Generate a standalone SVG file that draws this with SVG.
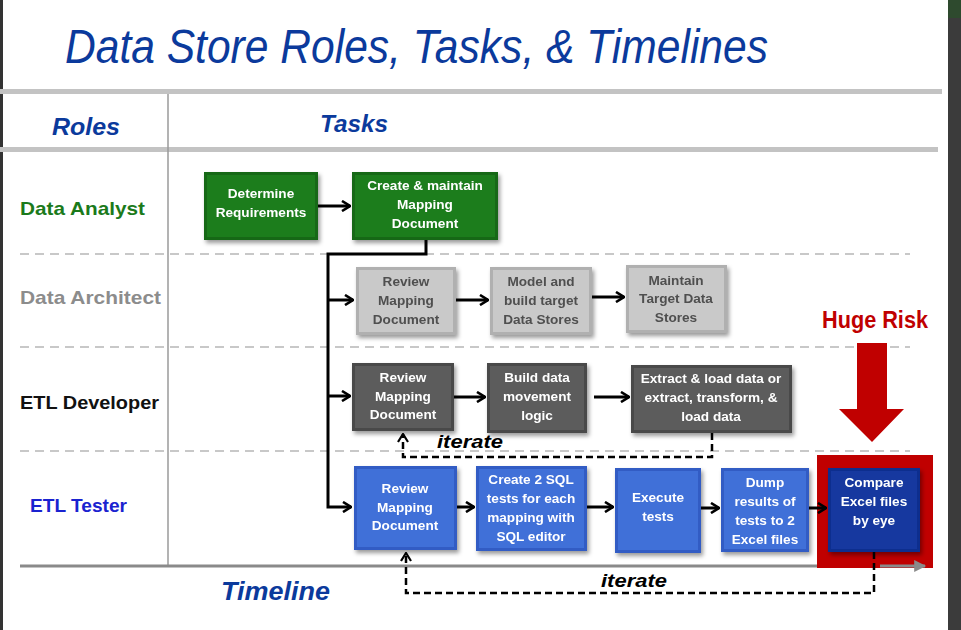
<svg xmlns="http://www.w3.org/2000/svg" width="961" height="630" viewBox="0 0 961 630">
<defs>
<style>
.lbl{font-family:"Liberation Sans",Arial,sans-serif;font-weight:bold;}
.bt{font-family:"Liberation Sans",Arial,sans-serif;font-weight:bold;font-size:13.6px;text-anchor:middle;}
.w{fill:#ffffff;}
.g{fill:#4f4f4f;}
.hdr{font-family:"Liberation Sans",Arial,sans-serif;font-weight:bold;font-style:italic;fill:#0b3a9c;}
.lane{stroke:#c8c8c8;stroke-width:2;stroke-dasharray:9 6;fill:none;}
.conn{stroke:#000;stroke-width:3;fill:none;}
.dash{stroke:#000;stroke-width:2.5;fill:none;stroke-dasharray:7 4;}
.it{font-family:"Liberation Sans",Arial,sans-serif;font-weight:bold;font-style:italic;font-size:19px;fill:#000;}
</style>
<filter id="sh" x="-10%" y="-10%" width="130%" height="140%">
<feDropShadow dx="2" dy="3" stdDeviation="2" flood-color="#000" flood-opacity="0.4"/>
</filter>
<marker id="ah" viewBox="0 0 10 12" refX="9" refY="6" markerWidth="10" markerHeight="12" markerUnits="userSpaceOnUse" orient="auto">
<path d="M1,1 L9,6 L1,11" fill="none" stroke="#000" stroke-width="2.6"/>
</marker>
<marker id="ahd" viewBox="0 0 10 12" refX="9" refY="6" markerWidth="10" markerHeight="12" markerUnits="userSpaceOnUse" orient="auto">
<path d="M1,1 L9,6 L1,11" fill="none" stroke="#000" stroke-width="2.2"/>
</marker>
<marker id="ahg" viewBox="0 0 10 10" refX="9" refY="5" markerWidth="14" markerHeight="12" markerUnits="userSpaceOnUse" orient="auto">
<path d="M0,0 L10,5 L0,10 Z" fill="#8a8a8a"/>
</marker>
</defs>

<rect x="0" y="0" width="961" height="630" fill="#ffffff"/>
<rect x="0" y="0" width="3" height="630" fill="#333333"/>
<rect x="948" y="0" width="13" height="630" fill="#3b3b3b"/>
<rect x="948" y="0" width="13" height="18" fill="#2e4a2e"/>

<text x="65" y="63" font-family="Liberation Sans, Arial, sans-serif" font-style="italic" font-size="48" fill="#0b3a9c" textLength="703" lengthAdjust="spacingAndGlyphs">Data Store Roles, Tasks, &amp; Timelines</text>

<rect x="0" y="89" width="942" height="5" fill="#c3c3c3"/>
<rect x="0" y="147" width="938" height="5" fill="#c3c3c3"/>
<line x1="168" y1="94" x2="168" y2="566" stroke="#9a9a9a" stroke-width="1.5"/>
<text class="hdr" x="52" y="135" font-size="24" textLength="68" lengthAdjust="spacingAndGlyphs">Roles</text>
<text class="hdr" x="320" y="132" font-size="24" textLength="68" lengthAdjust="spacingAndGlyphs">Tasks</text>

<line class="lane" x1="20" y1="254" x2="910" y2="254"/>
<line class="lane" x1="20" y1="347" x2="910" y2="347"/>
<line class="lane" x1="20" y1="451" x2="910" y2="451"/>

<text class="lbl" x="20" y="215" font-size="19" fill="#1b7a1b" textLength="125" lengthAdjust="spacingAndGlyphs">Data Analyst</text>
<text class="lbl" x="20" y="304" font-size="19" fill="#8c8c8c" textLength="141" lengthAdjust="spacingAndGlyphs">Data Architect</text>
<text class="lbl" x="20" y="409" font-size="19" fill="#111111" textLength="139" lengthAdjust="spacingAndGlyphs">ETL Developer</text>
<text class="lbl" x="30" y="512" font-size="19" fill="#1a23d0" textLength="97" lengthAdjust="spacingAndGlyphs">ETL Tester</text>

<line x1="20" y1="566" x2="912" y2="566" stroke="#8a8a8a" stroke-width="3"/>
<text class="hdr" x="221" y="600" font-size="25" textLength="109" lengthAdjust="spacingAndGlyphs">Timeline</text>

<g id="risk-box"><rect x="817" y="455" width="116" height="113" fill="#c00000"/></g>

<g id="connectors">
<path class="conn" d="M426,240 V254 H328 V507 H351" marker-end="url(#ah)"/>
<path class="conn" d="M328,300 H353" marker-end="url(#ah)"/>
<path class="conn" d="M328,396 H350" marker-end="url(#ah)"/>
<path class="conn" d="M318,206 H350" marker-end="url(#ah)"/>
<path class="conn" d="M456,300 H488" marker-end="url(#ah)"/>
<path class="conn" d="M592,297 H624" marker-end="url(#ah)"/>
<path class="conn" d="M454,397 H485" marker-end="url(#ah)"/>
<path class="conn" d="M594,397 H629" marker-end="url(#ah)"/>
<path class="conn" d="M457,507 H474" marker-end="url(#ah)"/>
<path class="conn" d="M587,507 H613" marker-end="url(#ah)"/>
<path class="conn" d="M701,508 H719" marker-end="url(#ah)"/>
<path class="conn" d="M809,508 H826" marker-end="url(#ah)"/>
<path class="dash" d="M712,433 V457 H403 V434" marker-end="url(#ahd)"/>
<path class="dash" d="M874,552 V593 H406 V553" marker-end="url(#ahd)"/>
<line x1="880" y1="566" x2="925" y2="566" stroke="#8a8a8a" stroke-width="3" marker-end="url(#ahg)"/>
</g>
<text class="it" x="437" y="448" textLength="66" lengthAdjust="spacingAndGlyphs">iterate</text>
<text class="it" x="601" y="587" textLength="66" lengthAdjust="spacingAndGlyphs">iterate</text>

<g id="n-determine" filter="url(#sh)">
<rect x="204" y="172" width="114" height="68" fill="#166816"/>
<rect x="207" y="175" width="108" height="62" fill="#1f7d1f"/>
<text class="bt w" x="261" y="198">Determine</text>
<text class="bt w" x="261" y="217">Requirements</text>
</g>
<g id="n-create-map" filter="url(#sh)">
<rect x="352" y="172" width="146" height="68" fill="#166816"/>
<rect x="355" y="175" width="140" height="62" fill="#1f7d1f"/>
<text class="bt w" x="425" y="190">Create &amp; maintain</text>
<text class="bt w" x="425" y="209">Mapping</text>
<text class="bt w" x="425" y="228">Document</text>
</g>

<g id="n-arch-review" filter="url(#sh)">
<rect x="356" y="267" width="100" height="68" fill="#b0b0b0"/>
<rect x="359" y="270" width="94" height="62" fill="#c9c9c9"/>
<text class="bt g" x="406" y="286">Review</text>
<text class="bt g" x="406" y="305">Mapping</text>
<text class="bt g" x="406" y="324">Document</text>
</g>
<g id="n-model" filter="url(#sh)">
<rect x="490" y="267" width="102" height="68" fill="#b0b0b0"/>
<rect x="493" y="270" width="96" height="62" fill="#c9c9c9"/>
<text class="bt g" x="541" y="286">Model and</text>
<text class="bt g" x="541" y="305">build target</text>
<text class="bt g" x="541" y="324">Data Stores</text>
</g>
<g id="n-maintain" filter="url(#sh)">
<rect x="626" y="265" width="101" height="68" fill="#b0b0b0"/>
<rect x="629" y="268" width="95" height="62" fill="#c9c9c9"/>
<text class="bt g" x="676" y="285">Maintain</text>
<text class="bt g" x="676" y="303">Target Data</text>
<text class="bt g" x="676" y="322">Stores</text>
</g>

<g id="n-dev-review" filter="url(#sh)">
<rect x="352" y="363" width="102" height="68" fill="#4a4a4a"/>
<rect x="355" y="366" width="96" height="62" fill="#5c5c5c"/>
<text class="bt w" x="403" y="382">Review</text>
<text class="bt w" x="403" y="401">Mapping</text>
<text class="bt w" x="403" y="419">Document</text>
</g>
<g id="n-build" filter="url(#sh)">
<rect x="487" y="363" width="100" height="70" fill="#4a4a4a"/>
<rect x="490" y="366" width="94" height="64" fill="#5c5c5c"/>
<text class="bt w" x="537" y="382">Build data</text>
<text class="bt w" x="537" y="401">movement</text>
<text class="bt w" x="537" y="420">logic</text>
</g>
<g id="n-extract" filter="url(#sh)">
<rect x="631" y="365" width="161" height="68" fill="#4a4a4a"/>
<rect x="634" y="368" width="155" height="62" fill="#5c5c5c"/>
<text class="bt w" x="711" y="383">Extract &amp; load data or</text>
<text class="bt w" x="711" y="402">extract, transform, &amp;</text>
<text class="bt w" x="711" y="421">load data</text>
</g>

<g id="n-test-review" filter="url(#sh)">
<rect x="354" y="466" width="103" height="84" fill="#315cc4"/>
<rect x="357" y="469" width="97" height="78" fill="#3f6fd8"/>
<text class="bt w" x="405" y="493">Review</text>
<text class="bt w" x="405" y="512">Mapping</text>
<text class="bt w" x="405" y="530">Document</text>
</g>
<g id="n-sql" filter="url(#sh)">
<rect x="476" y="466" width="111" height="85" fill="#315cc4"/>
<rect x="479" y="469" width="105" height="79" fill="#3f6fd8"/>
<text class="bt w" x="531" y="484">Create 2 SQL</text>
<text class="bt w" x="531" y="503">tests for each</text>
<text class="bt w" x="531" y="522">mapping with</text>
<text class="bt w" x="531" y="541">SQL editor</text>
</g>
<g id="n-execute" filter="url(#sh)">
<rect x="615" y="468" width="86" height="85" fill="#315cc4"/>
<rect x="618" y="471" width="80" height="79" fill="#3f6fd8"/>
<text class="bt w" x="658" y="502">Execute</text>
<text class="bt w" x="658" y="521">tests</text>
</g>
<g id="n-dump" filter="url(#sh)">
<rect x="721" y="468" width="88" height="84" fill="#315cc4"/>
<rect x="724" y="471" width="82" height="78" fill="#3f6fd8"/>
<text class="bt w" x="765" y="487">Dump</text>
<text class="bt w" x="765" y="506">results of</text>
<text class="bt w" x="765" y="525">tests to 2</text>
<text class="bt w" x="765" y="544">Excel files</text>
</g>
<g id="n-compare" filter="url(#sh)">
<rect x="828" y="468" width="92" height="84" fill="#0f2f8e"/>
<rect x="831" y="471" width="86" height="78" fill="#15399f"/>
<text class="bt w" x="874" y="487">Compare</text>
<text class="bt w" x="874" y="506">Excel files</text>
<text class="bt w" x="874" y="525">by eye</text>
</g>

<g id="n-huge-risk">
<text x="875" y="328" font-family="Liberation Sans, Arial, sans-serif" font-weight="bold" font-size="23" fill="#c00000" text-anchor="middle" textLength="106" lengthAdjust="spacingAndGlyphs">Huge Risk</text>
<path d="M857,343 H887 V409 H904 L872,442 L839,409 H857 Z" fill="#c00000"/>
</g>
</svg>
